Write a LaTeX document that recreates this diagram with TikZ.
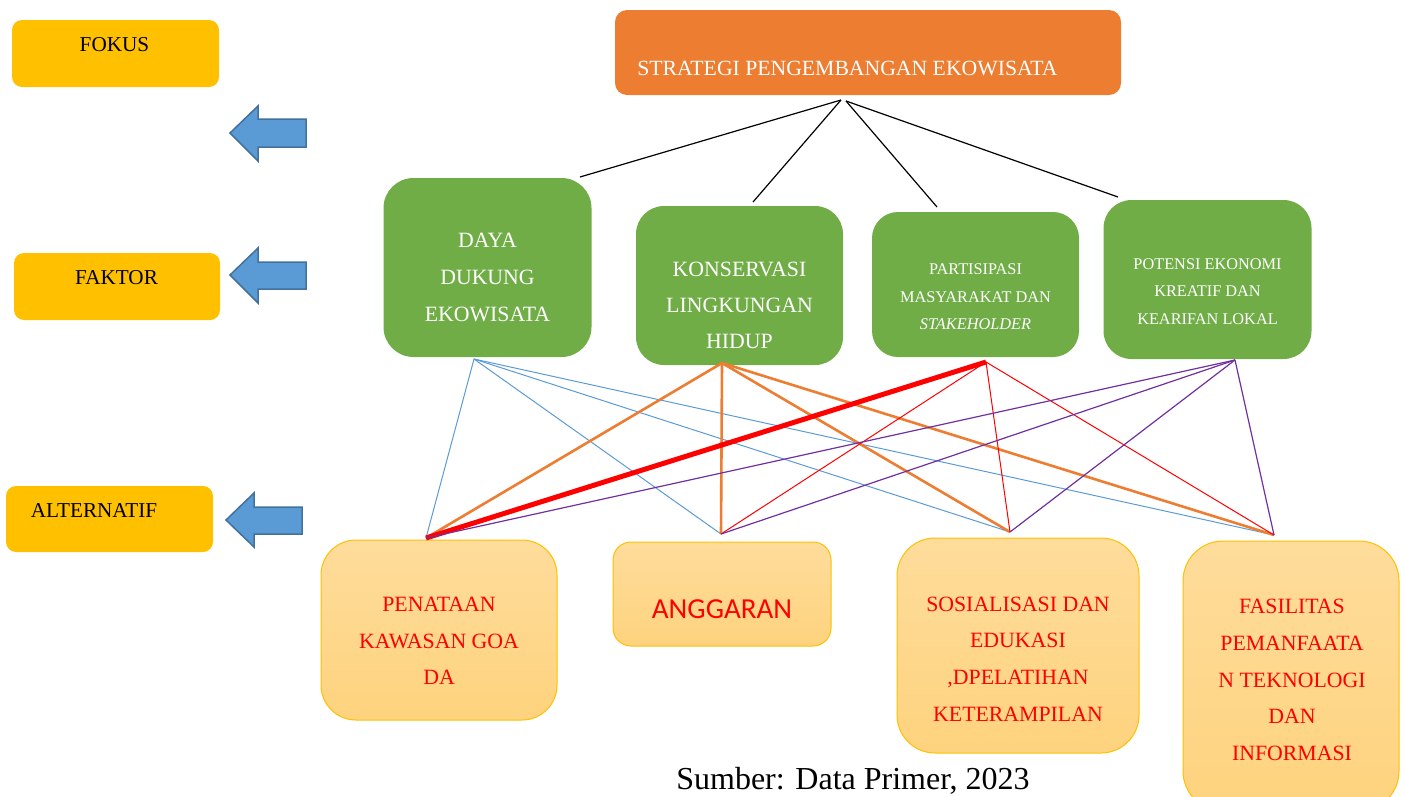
\documentclass[tikz,border=0pt]{standalone}
\usepackage{fontspec}
\setmainfont{Liberation Serif}
\newfontfamily\calibrifont{Carlito}
\definecolor{labelyellow}{HTML}{FFC000}
\definecolor{arrowblue}{HTML}{5B9BD5}
\definecolor{arrowedge}{HTML}{41719C}
\definecolor{toporange}{HTML}{ED7D31}
\definecolor{boxgreen}{HTML}{70AD47}
\definecolor{linepurple}{HTML}{7030A0}
\definecolor{altborder}{HTML}{FFC000}
\definecolor{alttop}{HTML}{FEDC9B}
\definecolor{altbot}{HTML}{FED37E}
\begin{document}
\begin{tikzpicture}[x=1pt,y=-1pt,
  lblbox/.style={fill=labelyellow, rounded corners=10pt, inner sep=0pt, draw=none},
  lbltext/.style={inner sep=0pt, font=\fontsize{21.2}{25}\selectfont, text=black},
  arrowshape/.style={fill=arrowblue, draw=arrowedge, line width=1.5pt, line join=miter},
  factorbox/.style={fill=boxgreen, draw=none, inner sep=0pt},
  whitetext/.style={inner sep=0pt, text=white, align=center},
  altbox/.style={top color=alttop, bottom color=altbot, draw=altborder, line width=1pt, inner sep=0pt},
  redtext/.style={inner sep=0pt, text=red, align=center, font=\fontsize{21.8}{36.8}\selectfont},
  conn/.style={line width=1.2pt, black},
  blueln/.style={arrowblue, line width=1pt},
  orangeln/.style={toporange, line width=2.6pt},
  redln/.style={red, line width=1pt},
  redthick/.style={red, line width=5pt},
  purpleln/.style={linepurple, line width=1.2pt}
]
\useasboundingbox (0,0) rectangle (1405,796);
\clip (0,0) rectangle (1405,796);

% left labels
\node[lblbox, minimum width=207pt, minimum height=67pt] (fokus) at (115.5,53.5) {};
\node[lbltext] (fokusT) at (114.5,44.7) {FOKUS};
\node[lblbox, minimum width=206pt, minimum height=67pt] (faktor) at (117,286.5) {};
\node[lbltext] (faktorT) at (116.5,278) {FAKTOR};
\node[lblbox, minimum width=207pt, minimum height=66pt] (alt) at (109.5,519) {};
\node[lbltext] (altT) at (94,510.5) {ALTERNATIF};

% block arrows
\draw[arrowshape] (306,119) -- (258,119) -- (258,106) -- (230,133) -- (258,161) -- (258,147) -- (306,147) -- cycle;
\draw[arrowshape] (306,262) -- (258,262) -- (258,248) -- (230,275) -- (258,303) -- (258,289) -- (306,289) -- cycle;
\draw[arrowshape] (302,507) -- (254,507) -- (254,493) -- (226,520) -- (254,547) -- (254,534) -- (302,534) -- cycle;

% top goal
\node[fill=toporange, rounded corners=12pt, minimum width=506pt, minimum height=85pt, inner sep=0pt] (goal) at (868,52.5) {};
\node[whitetext, font=\fontsize{21.7}{25}\selectfont] (goalT) at (847.5,68) {STRATEGI PENGEMBANGAN EKOWISATA};

% factor boxes
\node[factorbox, rounded corners=30pt, minimum width=208pt, minimum height=179pt] (g1) at (487.5,267.5) {};
\node[whitetext, font=\fontsize{21.8}{36.7}\selectfont] (g1T) at (487.5,277.5) {DAYA\\DUKUNG\\EKOWISATA};
\node[factorbox, rounded corners=28pt, minimum width=207pt, minimum height=159pt] (g2) at (739.5,285.5) {};
\node[whitetext, font=\fontsize{21.8}{36}\selectfont] (g2T) at (739.5,305) {KONSERVASI\\LINGKUNGAN\\HIDUP};
\node[factorbox, rounded corners=26pt, minimum width=207pt, minimum height=145pt] (g3) at (975.5,284.5) {};
\node[whitetext, font=\fontsize{16.3}{27.5}\selectfont] (g3T) at (975.5,297) {PARTISIPASI\\MASYARAKAT DAN\\\textit{STAKEHOLDER}};
\node[factorbox, rounded corners=28pt, minimum width=208pt, minimum height=159pt] (g4) at (1207.5,279.5) {};
\node[whitetext, font=\fontsize{16.3}{27.7}\selectfont] (g4T) at (1207.5,291.5) {POTENSI EKONOMI\\KREATIF DAN\\KEARIFAN LOKAL};

% alternative boxes
\node[altbox, rounded corners=35pt, minimum width=236pt, minimum height=180pt] (b1) at (439,630) {};
\node[redtext] (b1T) at (439,641) {PENATAAN\\KAWASAN GOA\\DA};
\node[altbox, rounded corners=18pt, minimum width=218pt, minimum height=104pt] (b2) at (722,594) {};
\node[inner sep=0pt, text=red, font=\calibrifont\fontsize{29}{34}\selectfont] (b2T) at (722,609.5) {ANGGARAN};
\node[altbox, rounded corners=38pt, minimum width=242pt, minimum height=215pt] (b3) at (1018,645.5) {};
\node[redtext] (b3T) at (1018,659) {SOSIALISASI DAN\\EDUKASI\\,DPELATIHAN\\KETERAMPILAN};
\node[altbox, rounded corners=40pt, minimum width=216pt, minimum height=270pt] (b4) at (1291,676) {};
\node[redtext] (b4T) at (1292,680) {FASILITAS\\PEMANFAATA\\N TEKNOLOGI\\DAN\\INFORMASI};

% source
\node[anchor=base, inner sep=0pt, font=\fontsize{32}{36}\selectfont] (src) at (853,789) {Sumber: Data Primer, 2023};

% connector anchor points
\coordinate (apexL) at (841,100);
\coordinate (apexR) at (846,101);
\coordinate (g1n) at (580,177);
\coordinate (g2n) at (753,202);
\coordinate (g3n) at (937,207);
\coordinate (g4n) at (1118,197);
\coordinate (g1s) at (474,359);
\coordinate (g2s) at (722,363);
\coordinate (g3s) at (986,362);
\coordinate (g4s) at (1235,360);
\coordinate (b1n) at (426,538);
\coordinate (b2n) at (721,534);
\coordinate (b3n) at (1010,532);
\coordinate (b4n) at (1274,535);

% goal to factors
\draw[conn] (apexL) -- (g1n);
\draw[conn] (apexL) -- (g2n);
\draw[conn] (apexR) -- (g3n);
\draw[conn] (apexR) -- (g4n);

% factors to alternatives
\foreach \b in {b1n,b2n,b3n,b4n} \draw[blueln] (g1s) -- (\b);
\foreach \b in {b1n,b2n,b3n,b4n} \draw[orangeln] (g2s) -- (\b);
\foreach \b in {b2n,b3n,b4n} \draw[redln] (g3s) -- (\b);
\draw[redthick] (g3s) -- (b1n);
\foreach \b in {b1n,b2n,b3n,b4n} \draw[purpleln] (g4s) -- (\b);
\end{tikzpicture}
\end{document}
